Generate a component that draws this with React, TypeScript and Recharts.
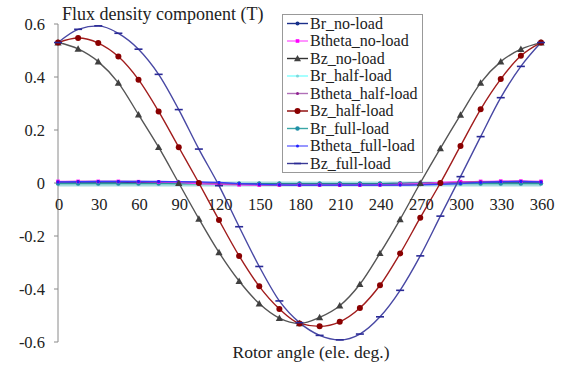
import React from 'react'
import { LineChart, Line, XAxis, YAxis, ReferenceLine } from 'recharts'

const FONT = '"Liberation Serif", "DejaVu Serif", serif'

const angles = [0, 15, 30, 45, 60, 75, 90, 105, 120, 135, 150, 165, 180, 195, 210, 225, 240, 255, 270, 285, 300, 315, 330, 345, 360]
const xTicks = [0, 30, 60, 90, 120, 150, 180, 210, 240, 270, 300, 330, 360]
const yTicks = [-0.6, -0.4, -0.2, 0, 0.2, 0.4, 0.6]

const brNoLoad = [0.003, 0.003, 0.003, 0.003, 0.002, 0.002, 0.001, 0.0, -0.001, -0.002, -0.002, -0.002, -0.002, -0.002, -0.002, -0.002, -0.002, -0.001, 0.0, 0.001, 0.002, 0.003, 0.003, 0.003, 0.003]
const bthetaNoLoad = [0.006, 0.006, 0.006, 0.006, 0.005, 0.004, 0.002, -0.002, -0.005, -0.007, -0.008, -0.008, -0.008, -0.008, -0.008, -0.008, -0.007, -0.005, -0.002, 0.002, 0.005, 0.006, 0.007, 0.007, 0.006]
const bzNoLoad = [0.53, 0.506, 0.458, 0.378, 0.258, 0.135, 0.0, -0.135, -0.262, -0.37, -0.455, -0.51, -0.53, -0.507, -0.463, -0.382, -0.265, -0.137, 0.0, 0.131, 0.257, 0.378, 0.458, 0.505, 0.53]
const brHalfLoad = [-0.004, -0.004, -0.004, -0.004, -0.004, -0.004, -0.004, -0.004, -0.004, -0.004, -0.004, -0.004, -0.004, -0.004, -0.004, -0.004, -0.004, -0.004, -0.004, -0.004, -0.004, -0.004, -0.004, -0.004, -0.004]
const bthetaHalfLoad = [0.005, 0.006, 0.006, 0.006, 0.006, 0.005, 0.004, 0.002, -0.002, -0.005, -0.007, -0.008, -0.008, -0.008, -0.008, -0.008, -0.008, -0.007, -0.005, -0.002, 0.002, 0.005, 0.006, 0.007, 0.005]
const bzHalfLoad = [0.53, 0.547, 0.528, 0.477, 0.39, 0.27, 0.135, 0.0, -0.14, -0.275, -0.39, -0.475, -0.53, -0.541, -0.524, -0.472, -0.386, -0.266, -0.131, 0.0, 0.14, 0.278, 0.392, 0.48, 0.53]
const brFullLoad = [-0.002, -0.002, -0.002, -0.002, -0.002, -0.002, -0.003, -0.003, -0.003, -0.003, -0.003, -0.003, -0.003, -0.003, -0.003, -0.003, -0.003, -0.003, -0.003, -0.003, -0.002, -0.002, -0.002, -0.002, -0.002]
const bthetaFullLoad = [0.004, 0.005, 0.006, 0.006, 0.006, 0.006, 0.005, 0.004, 0.002, -0.002, -0.005, -0.007, -0.008, -0.008, -0.008, -0.008, -0.008, -0.008, -0.007, -0.005, -0.002, 0.002, 0.005, 0.006, 0.004]
const bzFullLoad = [0.53, 0.58, 0.593, 0.565, 0.505, 0.41, 0.277, 0.128, -0.01, -0.165, -0.315, -0.445, -0.527, -0.575, -0.592, -0.57, -0.505, -0.405, -0.275, -0.125, 0.024, 0.175, 0.322, 0.44, 0.53]

const data = angles.map((angle, i) => ({
  angle,
  brNo: brNoLoad[i],
  bthNo: bthetaNoLoad[i],
  bzNo: bzNoLoad[i],
  brHalf: brHalfLoad[i],
  bthHalf: bthetaHalfLoad[i],
  bzHalf: bzHalfLoad[i],
  brFull: brFullLoad[i],
  bthFull: bthetaFullLoad[i],
  bzFull: bzFullLoad[i],
}))

type Shape = 'dot' | 'square' | 'triangle' | 'circle' | 'dash' | 'none'

// draws one excel-style marker centred on (cx, cy)
function Marker({ cx, cy, shape, color, size }: { cx: number; cy: number; shape: Shape; color: string; size: number }) {
  if (cx == null || cy == null) return null
  switch (shape) {
    case 'dot':
      return <circle cx={cx} cy={cy} r={size} fill={color} />
    case 'circle':
      return <circle cx={cx} cy={cy} r={size} fill={color} />
    case 'square':
      return <rect x={cx - size} y={cy - size} width={size * 2} height={size * 2} fill={color} />
    case 'triangle':
      return <path d={`M${cx},${cy - size} L${cx + size},${cy + size * 0.8} L${cx - size},${cy + size * 0.8} Z`} fill={color} />
    case 'dash':
      return <line x1={cx - size} x2={cx + size} y1={cy} y2={cy} stroke={color} strokeWidth={1.6} />
    default:
      return null
  }
}

const series = [
  { key: 'brHalf', name: 'Br_half-load', color: '#a6dcdf', width: 5, shape: 'none' as Shape, mColor: '#7fd4d8', size: 0 },
  { key: 'brNo', name: 'Br_no-load', color: '#1c2f8a', width: 1.2, shape: 'dot' as Shape, mColor: '#16308a', size: 2 },
  { key: 'brFull', name: 'Br_full-load', color: '#2a9a9a', width: 1.2, shape: 'dot' as Shape, mColor: '#1f8fa8', size: 2.2 },
  { key: 'bthNo', name: 'Btheta_no-load', color: '#ff33ff', width: 1.2, shape: 'square' as Shape, mColor: '#ff00ff', size: 1.8 },
  { key: 'bthHalf', name: 'Btheta_half-load', color: '#a050a8', width: 1.2, shape: 'dot' as Shape, mColor: '#902090', size: 1.5 },
  { key: 'bthFull', name: 'Btheta_full-load', color: '#3a3aff', width: 1.2, shape: 'dot' as Shape, mColor: '#2020ff', size: 1.5 },
  { key: 'bzNo', name: 'Bz_no-load', color: '#555555', width: 1.4, shape: 'triangle' as Shape, mColor: '#404040', size: 3.6 },
  { key: 'bzHalf', name: 'Bz_half-load', color: '#a11c1c', width: 1.4, shape: 'circle' as Shape, mColor: '#8a0000', size: 3 },
  { key: 'bzFull', name: 'Bz_full-load', color: '#4848a4', width: 1.4, shape: 'dash' as Shape, mColor: '#2a2a96', size: 4 },
]

const legendOrder = ['brNo', 'bthNo', 'bzNo', 'brHalf', 'bthHalf', 'bzHalf', 'brFull', 'bthFull', 'bzFull']
const legendLine: Record<string, string> = {
  brNo: '#1c2f8a', bthNo: '#ff66ff', bzNo: '#333333', brHalf: '#80ffff', bthHalf: '#b070b8',
  bzHalf: '#8a0000', brFull: '#3aa6a6', bthFull: '#6a6aff', bzFull: '#3a3a96',
}

const W = 566
const H = 367
const TOP = 24
const BOTTOM = 25
const X_AXIS_H = 1
const PLOT_H = H - TOP - BOTTOM

function LegendBox() {
  return (
    <svg width={141} height={159} style={{ display: 'block', fontFamily: FONT }}>
      <rect x={0.5} y={0.5} width={140} height={158} fill="#fff" stroke="#999" />
      {legendOrder.map((k, i) => {
        const s = series.find(d => d.key === k)!
        const y = 9.5 + i * 17.5
        return (
          <g key={k}>
            <line x1={5} x2={26} y1={y} y2={y} stroke={legendLine[k]} strokeWidth={1.4} />
            <Marker cx={15.5} cy={y} shape={s.shape === 'none' ? 'dot' : s.shape} color={s.mColor} size={s.shape === 'none' ? 1.5 : Math.min(s.size, 3.5)} />
            <text x={28} y={y + 5} style={{ fontFamily: FONT, fontSize: 16 }} fill="#222">{s.name}</text>
          </g>
        )
      })}
    </svg>
  )
}

// x tick labels sit just under the zero line, where the horizontal axis crosses
function XTick({ x, payload }: any) {
  const zeroY = TOP + PLOT_H / 2
  return (
    <text x={x + 1} y={zeroY + 27} textAnchor="middle" style={{ fontFamily: FONT, fontSize: 16.5 }} fill="#222">
      {payload.value}
    </text>
  )
}

export default function App() {
  return (
    <div style={{ position: 'absolute', left: 0, top: 0, width: W, height: H, background: '#fff', fontFamily: FONT }}>
      <LineChart width={W} height={H} data={data} margin={{ top: TOP, right: 25, bottom: BOTTOM - X_AXIS_H, left: 0 }}>
        <XAxis
          dataKey="angle"
          type="number"
          domain={[0, 360]}
          ticks={xTicks}
          axisLine={false}
          tickLine={false}
          height={X_AXIS_H}
          interval={0}
          tick={(p: any) => <XTick key={p.index} {...p} />}
        />
        <YAxis
          domain={[-0.6, 0.6]}
          ticks={yTicks}
          width={58}
          tickSize={4}
          tickMargin={9}
          stroke="#8a8a8a"
          tick={{ fill: '#222', fontSize: 16.5, style: { fontFamily: FONT } }}
          tickFormatter={(v: number) => String(v)}
        />
        <ReferenceLine y={0} stroke="#8a8a8a" />
        {series.map(s => (
          <Line
            key={s.key}
            dataKey={s.key}
            name={s.name}
            type="monotone"
            stroke={s.color}
            strokeWidth={s.width}
            isAnimationActive={false}
            dot={(p: any) => <Marker key={`${s.key}-${p.index}`} cx={p.cx} cy={p.cy} shape={s.shape} color={s.mColor} size={s.size} />}
            activeDot={false}
          />
        ))}
        <text x={62} y={20} style={{ fontFamily: FONT, fontSize: 18 }} fill="#222">Flux density component (T)</text>
        <text x={311} y={358} textAnchor="middle" style={{ fontFamily: FONT, fontSize: 17.5 }} fill="#222">Rotor angle (ele. deg.)</text>
      </LineChart>
      <div style={{ position: 'absolute', left: 282, top: 14 }}>
        <LegendBox />
      </div>
    </div>
  )
}
